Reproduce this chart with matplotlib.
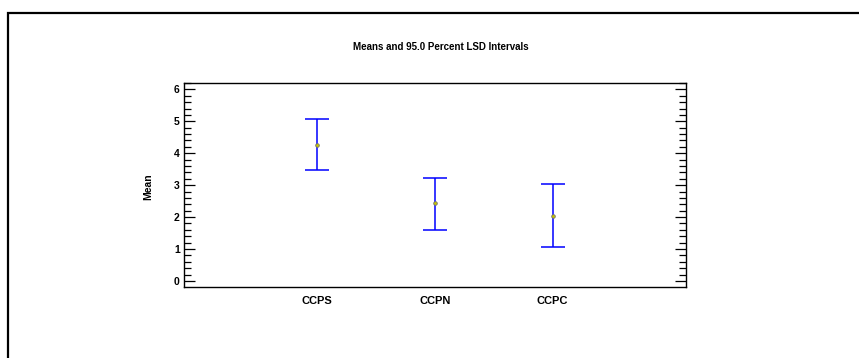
import matplotlib
matplotlib.use("Agg")
import matplotlib.pyplot as plt
from matplotlib.lines import Line2D
from matplotlib.ticker import MultipleLocator
import numpy as np

# Group means with 95% LSD interval bounds
groups = ["CCPS", "CCPN", "CCPC"]
means = [4.26, 2.43, 2.04]
lower = [3.46, 1.60, 1.05]
upper = [5.08, 3.22, 3.04]
y_ticks = [0, 1, 2, 3, 4, 5, 6]

plt.rcParams["font.family"] = ["Liberation Sans", "DejaVu Sans"]
plt.rcParams["font.weight"] = "bold"

W, H = 859, 358
fig = plt.figure(figsize=(W / 100, H / 100), dpi=100)
fig.patch.set_facecolor("white")

# outer frame (left and top edges)
fig.add_artist(Line2D([7.5 / W, 7.5 / W, 1.0], [0.0, 1 - 12.5 / H, 1 - 12.5 / H],
                      transform=fig.transFigure, color="black", lw=1.6,
                      solid_joinstyle="miter"))

ax = fig.add_axes([184 / W, 1 - 287 / H, (686 - 184) / W, (287 - 83) / H])

x = np.arange(1, len(groups) + 1)
m = np.array(means)
yerr = np.vstack([m - np.array(lower), np.array(upper) - m])

ax.errorbar(x, m, yerr=yerr, fmt="none", ecolor="#0000ff",
            elinewidth=1.1, capsize=8.4, capthick=1.1, zorder=2)
ax.plot(x, m, "o", markersize=2.6, markerfacecolor="#c8c400",
        markeredgecolor="#707070", markeredgewidth=0.6, zorder=3)

ax.set_xlim(-0.125, 4.13)
ax.set_ylim(-0.19, 6.2)
ax.set_xticks(x)
ax.set_xticklabels(groups, fontsize=8, fontweight="bold")
ax.set_yticks(y_ticks)
ax.set_yticklabels([str(v) for v in y_ticks], fontsize=7.5, fontweight="bold")
ax.yaxis.set_minor_locator(MultipleLocator(0.2))
ax.tick_params(axis="y", which="major", direction="in", length=8, width=0.9,
               left=True, right=True, pad=3)
ax.tick_params(axis="y", which="minor", direction="in", length=5, width=0.9,
               left=True, right=True)
ax.tick_params(axis="x", which="both", length=0, pad=6.5)
for s in ax.spines.values():
    s.set_linewidth(1.0)

fig.text(441 / W, 1 - 47 / H, "Means and 95.0 Percent LSD Intervals",
         ha="center", va="center", fontsize=7, fontweight="bold")
fig.text(148 / W, 1 - 187 / H, "Mean", rotation=90, ha="center", va="center",
         fontsize=7.5, fontweight="bold")

fig.savefig("out.png", dpi=100, facecolor="white")
